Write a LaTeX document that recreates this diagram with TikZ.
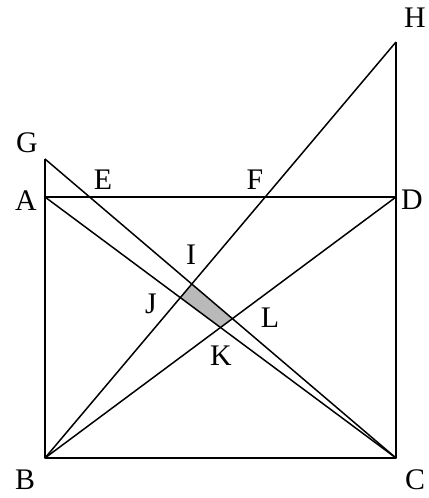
\documentclass[tikz,border=0pt]{standalone}
\usepackage{fontspec}
\setmainfont{Liberation Serif}
\usetikzlibrary{intersections}
\begin{document}
\begin{tikzpicture}[line width=0.85pt]
  \tikzstyle{lbl} = [inner sep=0pt, font=\fontsize{17}{20}\selectfont]
  \tikzstyle{edge} = [line join=round]
  \useasboundingbox (0,0) rectangle (8.56,9.96);

  % Corners
  \coordinate (A) at (0.9,6.02);
  \coordinate (B) at (0.9,0.8);
  \coordinate (C) at (7.92,0.8);
  \coordinate (D) at (7.92,6.02);
  \coordinate (G) at (0.9,6.78);
  \coordinate (H) at (7.92,9.12);

  % Lines
  \path [name path=ac] (A) -- (C);
  \path [name path=bd] (B) -- (D);
  \path [name path=gc] (G) -- (C);
  \path [name path=bh] (B) -- (H);
  \path [name intersections={of=bh and gc, by=I}];
  \path [name intersections={of=bh and ac, by=J}];
  \path [name intersections={of=bd and ac, by=K}];
  \path [name intersections={of=bd and gc, by=L}];

  % Shaded region
  \fill [gray!55] (I) -- (J) -- (K) -- (L) -- cycle;

  \draw [edge] (G) -- (B) -- (C) -- (H);
  \draw [edge] (A) -- (D);
  \draw [edge] (A) -- (C);
  \draw [edge] (B) -- (D);
  \draw [edge] (G) -- (C);
  \draw [edge] (B) -- (H);

  % Labels
  \node [lbl] (lG) at (0.54,7.1) {G};
  \node [lbl] (lA) at (0.52,5.94) {A};
  \node [lbl] (lE) at (2.06,6.36) {E};
  \node [lbl] (lF) at (5.1,6.36) {F};
  \node [lbl] (lD) at (8.24,5.96) {D};
  \node [lbl] (lH) at (8.3,9.6) {H};
  \node [lbl] (lI) at (3.82,4.86) {I};
  \node [lbl] (lJ) at (3.02,3.88) {J};
  \node [lbl] (lL) at (5.4,3.6) {L};
  \node [lbl] (lK) at (4.42,2.84) {K};
  \node [lbl] (lB) at (0.5,0.36) {B};
  \node [lbl] (lC) at (8.3,0.36) {C};
\end{tikzpicture}
\end{document}
